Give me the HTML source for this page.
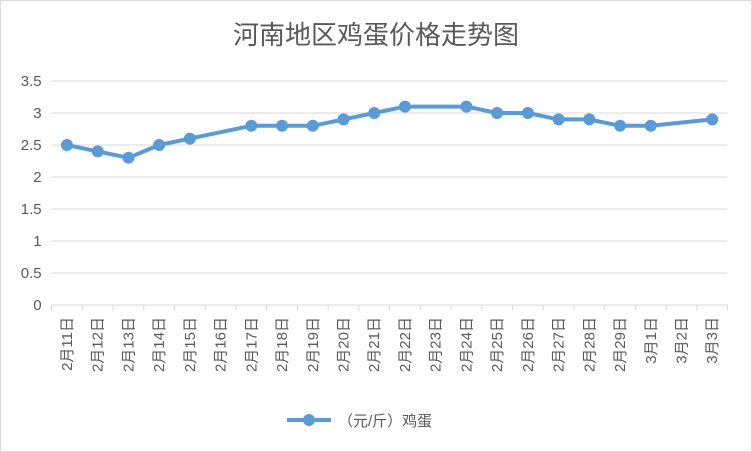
<!DOCTYPE html>
<html><head><meta charset="utf-8"><style>
body{margin:0;background:#fff}
svg{display:block}
text{font-family:"Liberation Sans","Noto Sans CJK SC",sans-serif}
</style></head><body>
<svg id="c" width="752" height="452">
<rect x="0.5" y="0.5" width="751" height="451" fill="#fff" stroke="#d9d9d9"/>
<text x="376" y="44" text-anchor="middle" font-size="26" fill="#595959">河南地区鸡蛋价格走势图</text>
<g id="grid"></g><g id="xax"></g><g id="series"></g>
<g>
<line x1="287" y1="420" x2="331" y2="420" stroke="#5b9bd5" stroke-width="4"/>
<circle cx="309" cy="420" r="6" fill="#5b9bd5"/>
<text x="338" y="426" font-size="15" fill="#595959">（元/斤）鸡蛋</text>
</g>
</svg>
<script>
const categories=["2月11日","2月12日","2月13日","2月14日","2月15日","2月16日","2月17日","2月18日","2月19日","2月20日","2月21日","2月22日","2月23日","2月24日","2月25日","2月26日","2月27日","2月28日","2月29日","3月1日","3月2日","3月3日"];
const values=[2.5,2.4,2.3,2.5,2.6,null,2.8,2.8,2.8,2.9,3.0,3.1,null,3.1,3.0,3.0,2.9,2.9,2.8,2.8,null,2.9];
const yTicks=[0,0.5,1,1.5,2,2.5,3,3.5];
const yTickLabels=["0","0.5","1","1.5","2","2.5","3","3.5"];
const NS="http://www.w3.org/2000/svg";
const L=51.6,R=727.6,T=81,B=305,YMAX=3.5;
const bw=(R-L)/categories.length;
const x=i=>L+bw*(i+0.5);
const y=v=>B-(v/YMAX)*(B-T);
function mk(tag,attrs,parent){const e=document.createElementNS(NS,tag);for(const k in attrs)e.setAttribute(k,attrs[k]);parent.appendChild(e);return e;}
const grid=document.getElementById('grid'),xax=document.getElementById('xax'),ser=document.getElementById('series');
yTicks.forEach((t,i)=>{
  const ln=mk('line',{x1:L,x2:R,y1:y(t),y2:y(t),stroke:'#d9d9d9','stroke-width':1},grid);
  
  
  const tx=mk('text',{x:L-10,y:y(t)+5,'text-anchor':'end','font-size':15,fill:'#595959'},grid);
  tx.textContent=yTickLabels[i];
  
  
});
for(let i=0;i<=categories.length;i++){
  const tk=mk('line',{x1:L+bw*i,x2:L+bw*i,y1:B,y2:B+6,stroke:'#d9d9d9'},xax);
  
  
}
categories.forEach((c,i)=>{
  const tx=mk('text',{x:0,y:0,'font-size':15,fill:'#595959','text-anchor':'end',transform:`translate(${x(i)+5},${B+12}) rotate(-90)`},xax);
  tx.textContent=c;
  
  
});
const pts=[];values.forEach((v,i)=>{if(v!=null)pts.push([x(i),y(v)]);});
const pl=mk('polyline',{points:pts.map(p=>p.join(',')).join(' '),fill:'none',stroke:'#5b9bd5','stroke-width':4,'stroke-linejoin':'round'},ser);


values.forEach((v,i)=>{if(v==null)return;
  const c=mk('circle',{cx:x(i),cy:y(v),r:6,fill:'#5b9bd5'},ser);
  
  
});
</script>
</body></html>
